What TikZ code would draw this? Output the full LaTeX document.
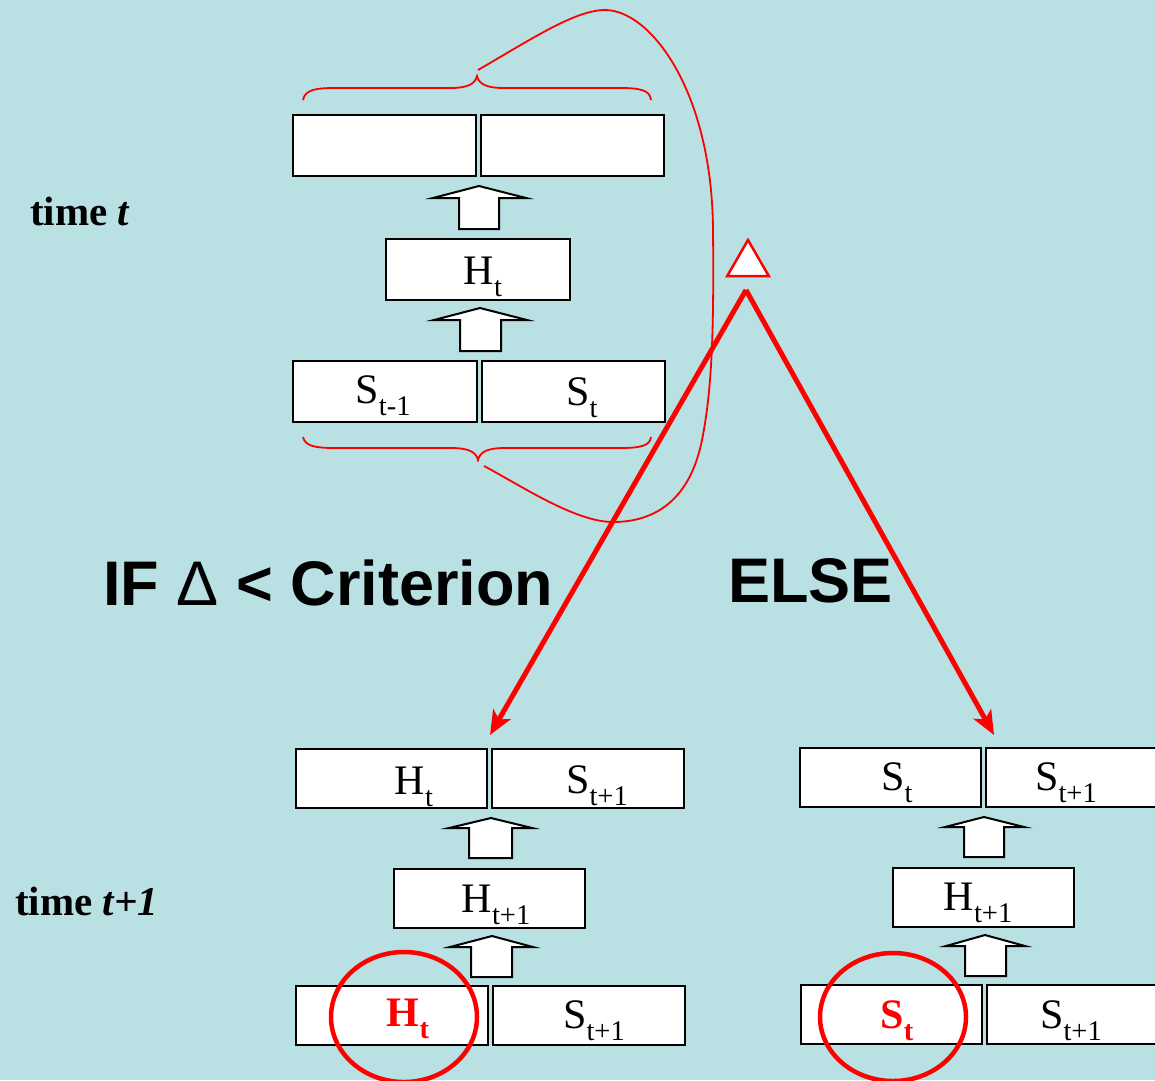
\documentclass[tikz,border=0pt]{standalone}
\usepackage{fontspec}
\setmainfont{Liberation Serif}
\setsansfont{Liberation Sans}
\usetikzlibrary{arrows.meta,shapes.geometric}
\definecolor{bg}{RGB}{185,224,227}
\definecolor{rd}{RGB}{255,0,0}
\newcommand{\sub}[1]{\raisebox{-12pt}{\fontsize{28.5}{30}\selectfont #1}}
\newcommand{\barrow}[8]{\draw[blockarrow] (#1,#2) -- (#4,#5) -- (#7,#5) -- (#7,#8) -- (#6,#8) -- (#6,#5) -- (#3,#5) -- cycle;}
\begin{document}
\begin{tikzpicture}[x=1pt,y=-1pt,
  boxst/.style={draw=black, line width=2pt, fill=white, inner sep=0pt, outer sep=0pt},
  blockarrow/.style={draw=black, line width=2pt, fill=white, line join=miter},
  lbl/.style={inner sep=0pt, outer sep=0pt, anchor=base, font=\fontsize{42}{48}\selectfont},
  redlbl/.style={lbl, text=rd, font=\fontsize{42}{48}\selectfont\bfseries},
  timelbl/.style={inner sep=0pt, anchor=base west, font=\fontsize{41}{46}\selectfont\bfseries},
  biglbl/.style={inner sep=0pt, anchor=base west, font=\fontsize{63}{70}\selectfont\sffamily\bfseries},
  bracest/.style={draw=rd, line width=1.8pt},
  thinred/.style={draw=rd, line width=1.8pt},
  thickred/.style={draw=rd, line width=5pt, -{Stealth[length=24pt,width=20pt,inset=6pt]}},
  circst/.style={draw=rd, line width=4.5pt, ellipse, inner sep=0pt, minimum width=146pt, minimum height=130pt}
]
\fill[bg] (0,0) rectangle (1155,1080);
\useasboundingbox (0,0) rectangle (1155,1080);

% ---- time t ----
\node[boxst, minimum width=183pt, minimum height=61pt] (tt1) at (384.5,145.5) {};
\node[boxst, minimum width=183pt, minimum height=61pt] (tt2) at (572.5,145.5) {};
\node[boxst, minimum width=184pt, minimum height=61pt] (th) at (478,269.5) {};
\node[boxst, minimum width=184pt, minimum height=61pt] (ts1) at (385,391.5) {};
\node[boxst, minimum width=183pt, minimum height=61pt] (ts2) at (573.5,391.5) {};
\barrow{479}{186}{433}{526}{198}{459}{499}{229}
\barrow{480}{308}{434}{527}{320}{460}{501}{351}
\node[lbl] (thl) at (483,284) {H\sub{t}};
\node[lbl] (ts1l) at (383,403) {S\sub{t-1}};
\node[lbl] (ts2l) at (582,405) {S\sub{t}};
\node[timelbl] (timet) at (30,225) {time \textit{t}};

% braces
\draw[bracest] (303,100) .. controls (305,90) and (315,88) .. (335,88) -- (450,88)
  .. controls (468,88) and (475,84) .. (477,76)
  .. controls (479,84) and (486,88) .. (504,88) -- (620,88)
  .. controls (640,88) and (650,90) .. (651,100);
\draw[bracest] (303,437) .. controls (305,446) and (315,448) .. (335,448) -- (451,448)
  .. controls (469,448) and (476,452) .. (478,460)
  .. controls (480,452) and (487,448) .. (505,448) -- (620,448)
  .. controls (640,448) and (650,446) .. (651,437);
\draw[thinred] (478,70) .. controls (530,40) and (575,10) .. (605,10)
  .. controls (650,10) and (712,90) .. (713,230)
  .. controls (714,330) and (712,390) .. (702,440)
  .. controls (690,500) and (655,522) .. (613,522)
  .. controls (575,522) and (520,485) .. (484,466);

% delta
\node[regular polygon, regular polygon sides=3, draw=rd, fill=white, line width=2.5pt, minimum size=48pt, inner sep=0pt] (delta) at (748,264) {};
\coordinate (split) at (746,290);
\coordinate (tipL) at (490,735);
\coordinate (tipR) at (994,735);
\draw[thickred] (split) -- (tipL);
\draw[thickred] (split) -- (tipR);

\node[biglbl] (ifl) at (103,605) {IF {\mdseries Δ} < Criterion};
\node[biglbl] (elsel) at (728,602) {ELSE};

% ---- time t+1, left ----
\node[boxst, minimum width=191pt, minimum height=59pt] (a1) at (391.5,778.5) {};
\node[boxst, minimum width=192pt, minimum height=59pt] (a2) at (588,778.5) {};
\node[boxst, minimum width=191pt, minimum height=59pt] (ah) at (489.5,898.5) {};
\node[boxst, minimum width=192pt, minimum height=59pt] (ab1) at (392,1015.5) {};
\node[boxst, minimum width=192pt, minimum height=59pt] (ab2) at (589,1015.5) {};
\barrow{491}{818}{449}{532}{828}{469}{512}{858}
\barrow{492}{936}{450}{533}{947}{471}{512}{977}
\node[lbl] (a1l) at (414,794) {H\sub{t}};
\node[lbl] (a2l) at (597,793) {S\sub{t+1}};
\node[lbl] (ahl) at (496,912) {H\sub{t+1}};
\node[redlbl] (ab1l) at (408,1026) {H\sub{\bfseries t}};
\node[lbl] (ab2l) at (594,1028) {S\sub{t+1}};
\node[circst] (c1) at (404,1017) {};
\node[timelbl] (timet1) at (15,915) {time \textit{t+1}};

% ---- time t+1, right ----
\node[boxst, minimum width=181pt, minimum height=59pt] (b1) at (890.5,777.5) {};
\node[boxst, minimum width=184pt, minimum height=59pt] (b2) at (1078,777.5) {};
\node[boxst, minimum width=181pt, minimum height=59pt] (bh) at (983.5,897.5) {};
\node[boxst, minimum width=181pt, minimum height=59pt] (bb1) at (891.5,1014.5) {};
\node[boxst, minimum width=183pt, minimum height=59pt] (bb2) at (1078.5,1014.5) {};
\barrow{984}{817}{945}{1024}{827}{964}{1004}{857}
\barrow{985}{935}{946}{1025}{946}{965}{1006}{976}
\node[lbl] (b1l) at (897,790) {S\sub{t}};
\node[lbl] (b2l) at (1066,790) {S\sub{t+1}};
\node[lbl] (bhl) at (978,910) {H\sub{t+1}};
\node[redlbl] (bb1l) at (897,1028) {S\sub{\bfseries t}};
\node[lbl] (bb2l) at (1071,1028) {S\sub{t+1}};
\node[circst, minimum height=128pt] (c2) at (893,1017) {};
\end{tikzpicture}
\end{document}
